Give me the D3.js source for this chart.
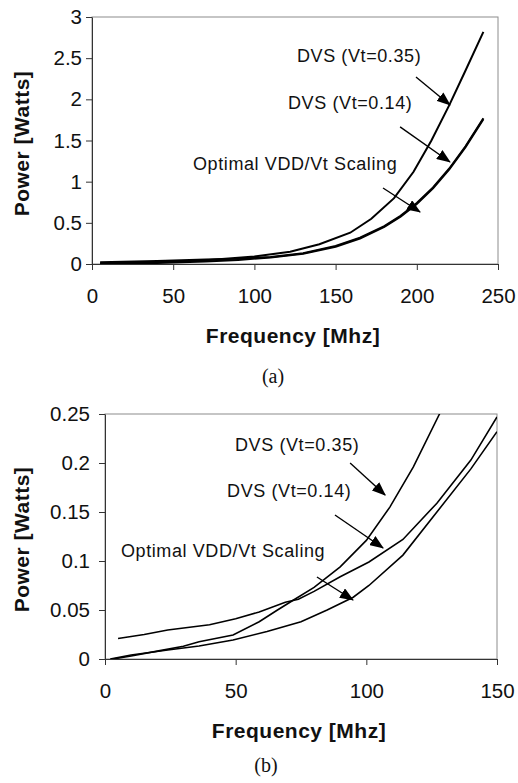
<!DOCTYPE html>
<meta charset="utf-8">
<style>
  body { margin: 0; background: #fff; }
  svg text { font-family: "Liberation Sans", Arial, Helvetica, sans-serif; fill: #111; }
  .tick line, .domain { stroke: #333; }
  .tick text { font-size: 20.5px; }
  .frame { fill: none; stroke: #8c8c8c; stroke-width: 1; }
  .title { font-weight: bold; font-size: 21px; letter-spacing: 0.5px; }
  .note { font-size: 18px; letter-spacing: 0.6px; }
  .caption { font-family: "Liberation Serif", "Times New Roman", serif !important; font-size: 20px; }
  .curve { fill: none; stroke: #000; }
  .arrow { stroke: #000; stroke-width: 1.4; }
</style>
<body>
<script src="https://d3js.org/d3.v7.min.js"></script>
<script>

// ---- panel (a): 0-250 Mhz ----
var fA35  = [5, 40, 70, 100, 122, 140, 159, 172, 186, 198, 209, 220, 230, 241];
var pA35  = [0.005, 0.02, 0.045, 0.09, 0.15, 0.24, 0.38, 0.55, 0.8, 1.12, 1.5, 1.93, 2.35, 2.82];
var fA14  = [5, 40, 70, 90, 110, 130, 150, 165, 180, 190, 200, 210, 220, 230, 241];
var pA14  = [0.022, 0.035, 0.055, 0.065, 0.085, 0.13, 0.22, 0.32, 0.46, 0.585, 0.74, 0.93, 1.16, 1.43, 1.77];
var fAopt = [5, 40, 70, 90, 110, 130, 150, 165, 180, 190, 200, 210, 220, 230, 241];
var pAopt = [0.003, 0.012, 0.03, 0.05, 0.078, 0.125, 0.21, 0.31, 0.45, 0.575, 0.73, 0.92, 1.15, 1.42, 1.76];
var xTicksA = [0, 50, 100, 150, 200, 250];
var yTicksA = [0, 0.5, 1, 1.5, 2, 2.5, 3];

// ---- panel (b): zoom on 0-150 Mhz ----
var fB35  = [3, 10, 20, 30, 36, 49, 59, 66, 72, 80, 90, 100, 109, 118, 128, 135];
var pB35  = [0, 0.003, 0.008, 0.013, 0.0177, 0.0245, 0.038, 0.05, 0.06, 0.073, 0.094, 0.121, 0.155, 0.196, 0.25, 0.29];
var fB14  = [5, 15, 24, 40, 50, 59, 69, 74, 80, 90, 101, 114, 127, 140, 150];
var pB14  = [0.021, 0.025, 0.0296, 0.035, 0.041, 0.048, 0.058, 0.061, 0.069, 0.084, 0.099, 0.122, 0.159, 0.203, 0.247];
var fBopt = [2, 10, 24, 36, 49, 62, 75, 85, 95, 101, 114, 127, 140, 150];
var pBopt = [0, 0.004, 0.0092, 0.0133, 0.0194, 0.028, 0.038, 0.05, 0.063, 0.075, 0.106, 0.15, 0.194, 0.232];
var xTicksB = [0, 50, 100, 150];
var yTicksB = [0, 0.05, 0.1, 0.15, 0.2, 0.25];

// annotation labels and arrows, in data units [f, P]
var labelText = ["DVS (Vt=0.35)", "DVS (Vt=0.14)", "Optimal VDD/Vt Scaling"];
var labelPosA = [[126.2, 2.454], [120.7, 1.883], [62.2, 1.142]];
var arrowA    = [[[199.5, 2.272], [220.4, 1.932]], [[189.7, 1.665], [220.4, 1.239]], [[179.2, 0.923], [202, 0.632]]];
var labelPosB = [[49.75, 0.2122], [46.7, 0.1653], [6.1, 0.1041]];
var arrowB    = [[[93.8, 0.2], [107.2, 0.1673]], [[88, 0.1469], [106.4, 0.1133]], [[81.1, 0.0837], [94.9, 0.0602]]];

var svg = d3.select("body").append("svg")
    .attr("width", 518)
    .attr("height", 783);

svg.append("defs").append("marker")
    .attr("id", "head")
    .attr("markerUnits", "userSpaceOnUse")
    .attr("markerWidth", 14).attr("markerHeight", 11)
    .attr("refX", 13).attr("refY", 5.5)
    .attr("orient", "auto")
  .append("path")
    .attr("d", "M0,0L14,5.5L0,11Z")
    .attr("fill", "#000");

function zip(f, p) { return f.map(function(d, i) { return [d, p[i]]; }); }

function panel(o) {
  var x = d3.scaleLinear().domain([0, o.xTicks[o.xTicks.length - 1]]).range([o.left, o.right]);
  var y = d3.scaleLinear().domain([0, o.yTicks[o.yTicks.length - 1]]).range([o.bottom, o.top]);
  var g = svg.append("g");

  g.append("clipPath").attr("id", o.id + "clip")
    .append("rect")
      .attr("x", o.left).attr("y", o.top)
      .attr("width", o.right - o.left).attr("height", o.bottom - o.top);

  g.append("rect").attr("class", "frame")
      .attr("x", o.left).attr("y", o.top)
      .attr("width", o.right - o.left).attr("height", o.bottom - o.top);

  g.append("g")
      .attr("transform", "translate(0," + o.bottom + ")")
      .call(d3.axisBottom(x).tickValues(o.xTicks).tickSizeInner(6).tickSizeOuter(0)
        .tickPadding(18).tickFormat(String));

  g.append("g")
      .attr("transform", "translate(" + o.left + ",0)")
      .call(d3.axisLeft(y).tickValues(o.yTicks).tickSizeInner(6).tickSizeOuter(0)
        .tickPadding(o.yPad).tickFormat(String));

  var line = d3.line().x(function(d) { return x(d[0]); }).y(function(d) { return y(d[1]); });

  g.append("g").attr("clip-path", "url(#" + o.id + "clip)")
    .selectAll("path")
    .data(o.series)
    .enter().append("path")
      .attr("class", "curve")
      .attr("stroke-width", o.lw)
      .attr("d", line);

  g.selectAll(".note")
    .data(o.labels)
    .enter().append("text")
      .attr("class", "note")
      .attr("x", function(d) { return x(d[0]); })
      .attr("y", function(d) { return y(d[1]); })
      .text(function(d, i) { return labelText[i]; });

  g.selectAll(".arrow")
    .data(o.arrows)
    .enter().append("line")
      .attr("class", "arrow")
      .attr("x1", function(d) { return x(d[0][0]); })
      .attr("y1", function(d) { return y(d[0][1]); })
      .attr("x2", function(d) { return x(d[1][0]); })
      .attr("y2", function(d) { return y(d[1][1]); })
      .attr("marker-end", "url(#head)");

  g.append("text")
      .attr("class", "title")
      .attr("text-anchor", "middle")
      .attr("x", (o.left + o.right) / 2 - 2)
      .attr("y", o.bottom + 79)
      .text("Frequency [Mhz]");

  g.append("text")
      .attr("class", "title")
      .attr("text-anchor", "middle")
      .attr("transform", "translate(29," + ((o.top + o.bottom) / 2 + 3) + ") rotate(-90)")
      .text("Power [Watts]");

  g.append("text")
      .attr("class", "caption")
      .attr("text-anchor", "middle")
      .attr("x", o.capX)
      .attr("y", o.capY)
      .text(o.caption);
}

panel({
  id: "a", left: 92, right: 498, top: 17, bottom: 264, yPad: 4, lw: 2,
  xTicks: xTicksA, yTicks: yTicksA,
  series: [zip(fA35, pA35), zip(fA14, pA14), zip(fAopt, pAopt)],
  labels: labelPosA, arrows: arrowA,
  caption: "(a)", capX: 273, capY: 383
});

panel({
  id: "b", left: 105, right: 497, top: 414, bottom: 659, yPad: 9, lw: 1.6,
  xTicks: xTicksB, yTicks: yTicksB,
  series: [zip(fB35, pB35), zip(fB14, pB14), zip(fBopt, pBopt)],
  labels: labelPosB, arrows: arrowB,
  caption: "(b)", capX: 266, capY: 772
});

</script>
